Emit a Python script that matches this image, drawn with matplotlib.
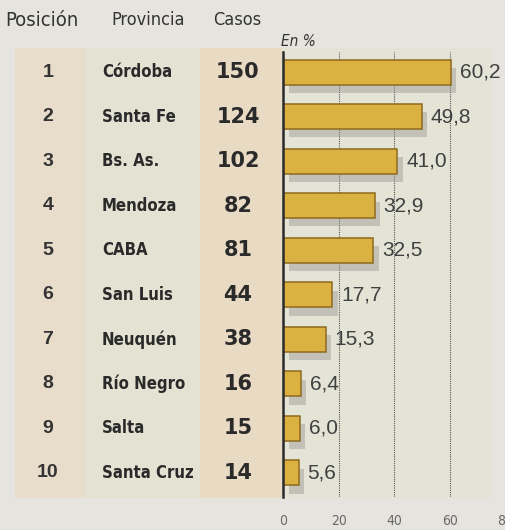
import matplotlib
matplotlib.use("Agg")
import matplotlib.pyplot as plt
import matplotlib.transforms as mtransforms
import matplotlib.patheffects as pe
from matplotlib.patches import Rectangle
from matplotlib import font_manager as fm

posiciones = ["1", "2", "3", "4", "5", "6", "7", "8", "9", "10"]
provincias = ["Córdoba", "Santa Fe", "Bs. As.", "Mendoza", "CABA", "San Luis",
              "Neuquén", "Río Negro", "Salta", "Santa Cruz"]
casos = [150, 124, 102, 82, 81, 44, 38, 16, 15, 14]
porcentaje = [60.2, 49.8, 41.0, 32.9, 32.5, 17.7, 15.3, 6.4, 6.0, 5.6]
xticks = [0, 20, 40, 60, 80]

# pick a condensed face if one is installed
if any(f.name == "Liberation Sans Narrow" for f in fm.fontManager.ttflist):
    NARROW = dict(family=["Liberation Sans Narrow", "DejaVu Sans"])
elif any(f.name == "DejaVu Sans" and f.stretch == "condensed" for f in fm.fontManager.ttflist):
    NARROW = dict(family=["DejaVu Sans"], fontstretch="condensed")
else:
    NARROW = dict(family=["Roboto", "DejaVu Sans"])
WIDE = dict(family=["Liberation Sans", "DejaVu Sans"])
HEAVY = dict(family=["DejaVu Sans"])

W, H = 505, 530
fig = plt.figure(figsize=(W / 100, H / 100), dpi=100)
fig.patch.set_facecolor("#e6e4de")

def fx(px):
    return px / W

def fy(py):
    return 1 - py / H

# background tints for the table columns
for x0, x1, col in [(15, 85, "#e8dccb"), (85, 200, "#e4e3d3"),
                    (200, 282, "#e8dac3"), (282, 492, "#e3e3d6")]:
    fig.patches.append(Rectangle((fx(x0), fy(498)), fx(x1 - x0), (498 - 48) / H,
                                 transform=fig.transFigure, facecolor=col,
                                 edgecolor="none", zorder=-5))

ax = fig.add_axes([fx(283), fy(497), (505.6 - 283) / W, (497 - 52) / H])
ax.set_zorder(2)
ax.set_facecolor("none")
n = len(provincias)
ypos = list(range(1, n + 1))

bars = ax.barh(ypos, porcentaje, height=0.56, color="#dbb142",
               edgecolor="#8f6a1e", linewidth=1.1, zorder=3)
for b in bars:
    b.set_path_effects([pe.SimplePatchShadow(offset=(4, -6), shadow_rgbFace="#9a9792", alpha=0.45),
                        pe.Normal()])

ax.set_xlim(0, 80)
ax.set_ylim(n + 0.54, 0.55)
for xv in [20, 40, 60]:
    ax.axvline(xv, color="#555555", linewidth=0.8, linestyle=(0, (1, 1)), zorder=1)

for spine in ["top", "right", "bottom"]:
    ax.spines[spine].set_visible(False)
ax.spines["left"].set_color("#2a2a2a")
ax.spines["left"].set_linewidth(1.8)
ax.spines["left"].set_zorder(4)
ax.set_yticks([])
ax.set_xticks(xticks)
ax.set_xticklabels([str(v) for v in xticks], fontsize=10, color="#6a6a6a", **NARROW)
ax.tick_params(axis="x", length=0, pad=12)

for y, v in zip(ypos, porcentaje):
    ax.annotate(f"{v:.1f}".replace(".", ","), xy=(v, y), xytext=(6.5, 0),
                textcoords="offset points", va="center", ha="left",
                fontsize=15, color="#404040", zorder=5, **WIDE)

trans = mtransforms.blended_transform_factory(fig.transFigure, ax.transData)
for y, p, prov, c in zip(ypos, posiciones, provincias, casos):
    ax.text(fx(48), y, p, transform=trans, ha="center", va="center",
            fontsize=14, fontweight="bold", color="#333333", **WIDE)
    ax.text(fx(102), y, prov, transform=trans, ha="left", va="center",
            fontsize=12, fontweight="bold", color="#2a2a2a", **NARROW)
    ax.text(fx(238), y, str(c), transform=trans, ha="center", va="center",
            fontsize=15, fontweight="bold", color="#2a2a2a", **HEAVY)

for x, t, fs in [(42, "Posición", 14.5), (148, "Provincia", 13), (237, "Casos", 13)]:
    fig.text(fx(x), fy(20), t, ha="center", va="center", fontsize=fs,
             color="#333333", **NARROW)
fig.text(fx(281), fy(42), "En %", ha="left", va="center", fontsize=11,
         style="italic", color="#333333", **NARROW)

fig.savefig("out.png", dpi=100, facecolor=fig.get_facecolor())
